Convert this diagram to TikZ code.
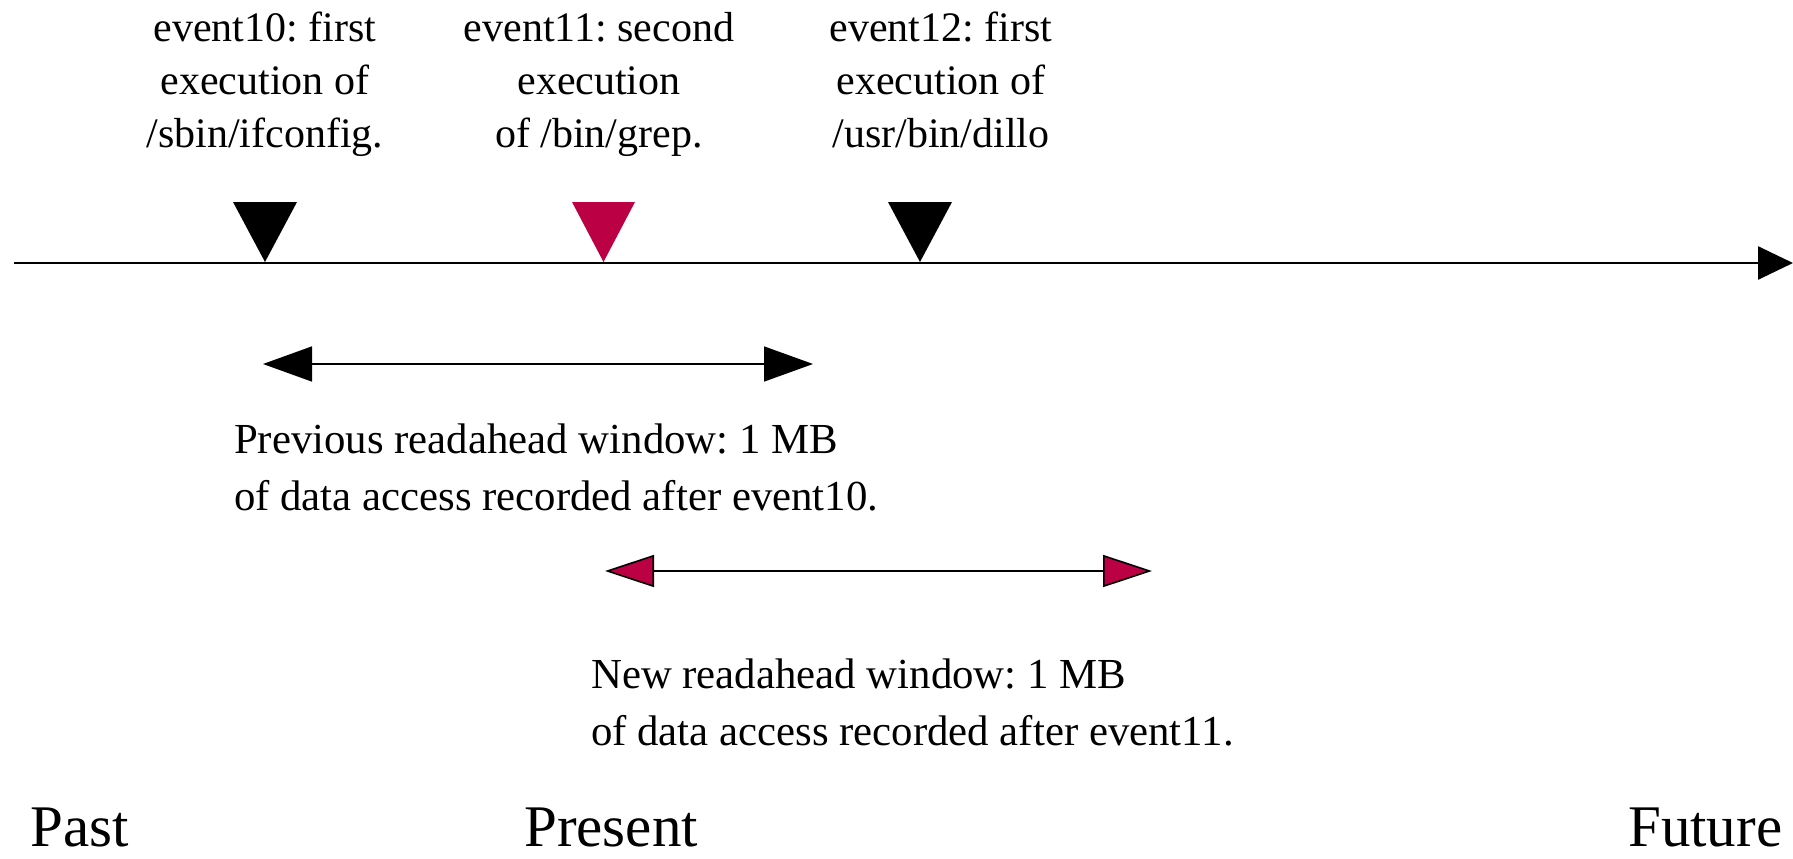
\documentclass[tikz,border=0pt]{standalone}
\usepackage{fontspec}
\setmainfont{Liberation Serif}
\usetikzlibrary{arrows.meta}
\definecolor{evred}{RGB}{187,0,68}
\frenchspacing
\tikzset{
  toplabel/.style={align=center, anchor=base, inner sep=0pt, font=\fontsize{42}{53}\selectfont},
  winlabel/.style={align=left, anchor=base west, inner sep=0pt, font=\fontsize{42.8}{57}\selectfont},
  timelabel/.style={anchor=base west, inner sep=0pt, text depth=0pt, font=\fontsize{59}{70}\selectfont},
  axisline/.style={line width=2.6pt, -{Triangle[length=35pt,width=33pt]}},
  prevwin/.style={line width=1.6pt, {Triangle[length=49pt,width=35pt]}-{Triangle[length=49pt,width=35pt]}},
  newwin/.style={line width=1.6pt, {Triangle[length=49pt,width=32pt,fill=evred]}-{Triangle[length=49pt,width=32pt,fill=evred]}},
}
\begin{document}
\begin{tikzpicture}[x=1pt,y=-1pt]
\useasboundingbox (0,0) rectangle (1793,859);
% axis
\coordinate (axstart) at (14,263);
\coordinate (axend) at (1793,263);
\draw[axisline] (axstart) -- (axend);
% event markers
\fill[black] (233,202) -- (297,202) -- (265,262) -- cycle;
\fill[evred] (572,202) -- (635,202) -- (603.5,262) -- cycle;
\fill[black] (888,202) -- (952,202) -- (920,262) -- cycle;
% labels (anchor = baseline of last line)
\node[toplabel] (ev10) at (265,147) {event10: first\\execution of\\/sbin/ifconfig.};
\node[toplabel] (ev11) at (599,147) {event11: second\\execution\\of /bin/grep.};
\node[toplabel] (ev12) at (941,147) {event12: first\\execution of\\/usr/bin/dillo};
% previous window
\coordinate (pw1) at (263,364);
\coordinate (pw2) at (813,364);
\draw[prevwin] (pw1) -- (pw2);
\node[winlabel] (pwtext) at (234,510) {Previous readahead window: 1 MB\\of data access recorded after event10.};
% new window
\coordinate (nw1) at (605,571);
\coordinate (nw2) at (1152,571);
\draw[newwin] (nw1) -- (nw2);
\node[winlabel] (nwtext) at (591,745) {New readahead window: 1 MB\\of data access recorded after event11.};
% time labels
\node[timelabel] (past) at (30,846) {Past};
\node[timelabel] (present) at (524,846) {Present};
\node[timelabel] (future) at (1628,846) {Future};
\end{tikzpicture}
\end{document}
